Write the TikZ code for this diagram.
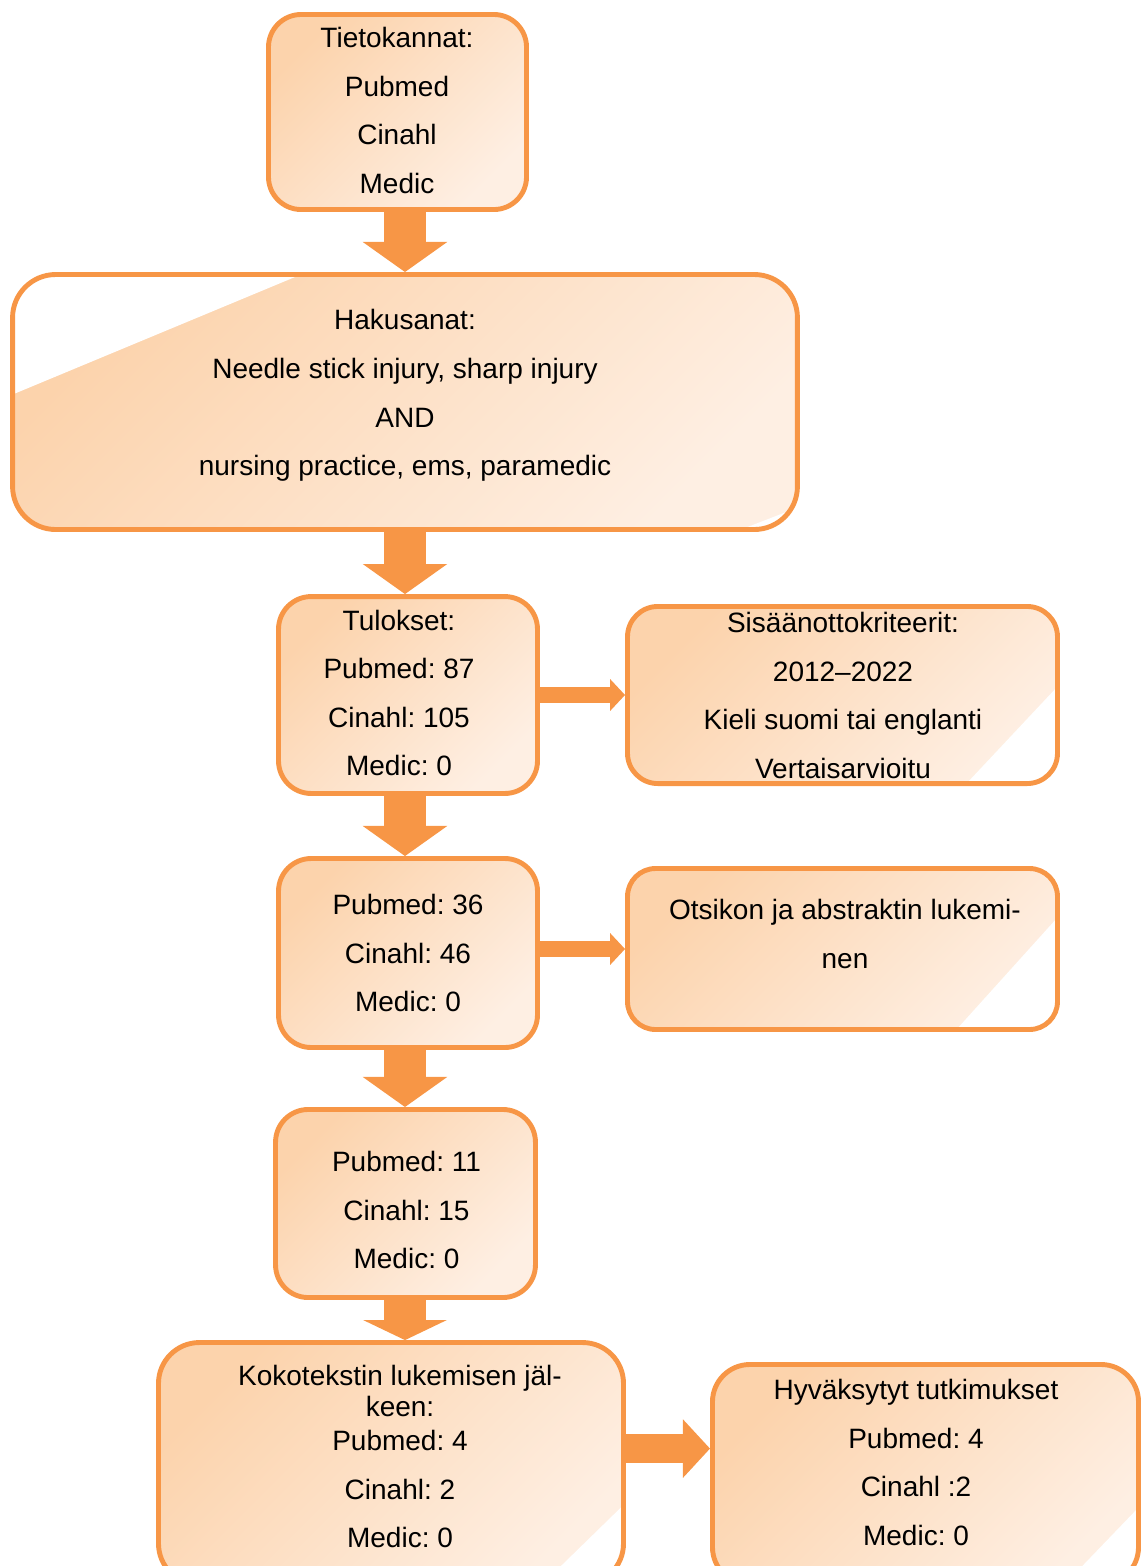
\documentclass[tikz,border=0pt]{standalone}
\usepackage{fontspec}
\setmainfont{Liberation Sans}
\usepackage{tikz}
\usetikzlibrary{arrows.meta, calc}
\frenchspacing
\definecolor{myorange}{RGB}{247,150,70}
\definecolor{peachdark}{RGB}{252,211,172}
\definecolor{peachlight}{RGB}{254,239,227}
\tikzset{
  box/.style={rectangle, draw=myorange, line width=2.1pt, rounded corners=14pt,
    top color=peachdark, bottom color=peachlight, shading angle=45},
  boxtext/.style={align=center, inner sep=0pt, font=\fontsize{12}{20.8}\selectfont},
  cutse/.style 2 args={path picture={\fill[white, sharp corners]
      ($(path picture bounding box.south east)+(-#1,0)$) --
      ($(path picture bounding box.south east)+(0,-#2)$) --
      (path picture bounding box.south east) -- cycle;}},
  downarrow/.style={-{Triangle[length=#1, width=35.6pt]}, line width=18pt, draw=myorange},
  downarrow/.default=12.9pt,
  sidearrow/.style={-{Triangle[length=6.4pt, width=13.3pt]}, line width=6.9pt, draw=myorange},
  bigsidearrow/.style={-{Triangle[length=11.6pt, width=24.4pt]}, line width=12.4pt, draw=myorange}
}
\begin{document}
\begin{tikzpicture}[x=0.4286pt, y=-0.4286pt]
  \useasboundingbox (0,0) rectangle (1141,1566);
  \clip (0,0) rectangle (1141,1566);
  % boxes
  \node[box, minimum width=110.6pt, minimum height=83.6pt] (tieto) at (397.5,112) {};
  \node[box, minimum width=336.4pt, minimum height=109.3pt, rounded corners=18.5pt,
    path picture={
      \fill[white, sharp corners] ($(path picture bounding box.north west)+(288.5,0)$) --
        ($(path picture bounding box.north west)+(0,120)$) --
        (path picture bounding box.north west) -- cycle;
      \fill[white, sharp corners] ($(path picture bounding box.south east)+(-56.5,0)$) --
        ($(path picture bounding box.south east)+(0,-21.8)$) --
        (path picture bounding box.south east) -- cycle;}] (haku) at (405,402) {};
  \node[box, minimum width=111pt, minimum height=84.4pt] (tulokset) at (408,695) {};
  \node[box, minimum width=184.3pt, minimum height=75.9pt, rounded corners=13pt,
    cutse={91}{97}] (kriteerit) at (842.5,695) {};
  \node[box, minimum width=111pt, minimum height=81pt] (haku1) at (408,953) {};
  \node[box, minimum width=184.3pt, minimum height=69pt, rounded corners=12pt,
    cutse={101}{112}] (otsikko) at (842.5,949) {};
  \node[box, minimum width=111.4pt, minimum height=80.6pt] (haku2) at (405.5,1203.5) {};
  \node[box, minimum width=199.3pt, minimum height=103.7pt, rounded corners=17.5pt,
    cutse={81.5}{79.5}] (koko) at (391,1463.5) {};
  \node[box, minimum width=182.6pt, minimum height=94.3pt, rounded corners=16pt,
    cutse={74}{77}] (hyvaks) at (925.5,1474.5) {};
  % texts
  \node[boxtext] (tieto-txt) at (397,110.5) {Tietokannat:\\Pubmed\\Cinahl\\Medic};
  \node[boxtext] (haku-txt) at (405,395.5) {Hakusanat:\\Needle stick injury, sharp injury\\AND\\nursing practice, ems, paramedic};
  \node[boxtext] (tulokset-txt) at (399,693) {Tulokset:\\Pubmed: 87\\Cinahl: 105\\Medic: 0};
  \node[boxtext] (kriteerit-txt) at (843,695.5) {Sisäänottokriteerit:\\2012–2022\\Kieli suomi tai englanti\\Vertaisarvioitu};
  \node[boxtext] (haku1-txt) at (408,953) {Pubmed: 36\\Cinahl: 46\\Medic: 0};
  \node[boxtext] (otsikko-txt) at (845,934) {Otsikon ja abstraktin lukemi-\\nen};
  \node[boxtext] (haku2-txt) at (406.5,1210) {Pubmed: 11\\Cinahl: 15\\Medic: 0};
  \node[boxtext] (koko-txt) at (400,1456.5) {Kokotekstin lukemisen jäl-\\[-7.5pt]keen:\\[-6.2pt]Pubmed: 4\\Cinahl: 2\\Medic: 0};
  \node[boxtext] (hyvaks-txt) at (916,1462.5) {Hyväksytyt tutkimukset\\Pubmed: 4\\Cinahl :2\\Medic: 0};
  % arrows
  \draw[downarrow] (tieto.south -| haku) -- (haku.north);
  \draw[downarrow] (haku.south) -- (haku.south |- tulokset.north);
  \draw[downarrow] (tulokset.south -| haku) -- (haku1.north -| haku);
  \draw[downarrow] (haku1.south -| haku) -- (haku2.north -| haku);
  \draw[downarrow=8.6pt] (haku2.south -| haku) -- (koko.north -| haku);
  \draw[sidearrow] (tulokset.east) -- (kriteerit.west);
  \draw[sidearrow] (haku1.east |- otsikko) -- (otsikko.west);
  \coordinate (kokoout) at ([yshift=6.4pt]koko.east);
  \draw[bigsidearrow] (kokoout) -- (kokoout -| hyvaks.west);
\end{tikzpicture}
\end{document}
